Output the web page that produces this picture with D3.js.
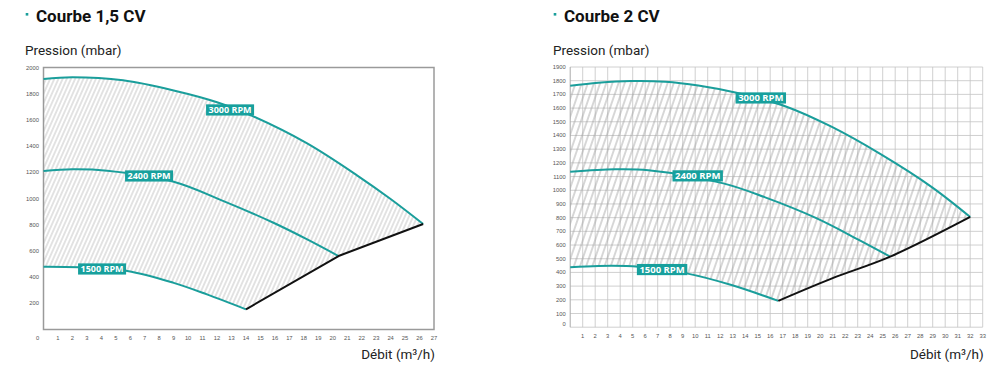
<!DOCTYPE html>
<html>
<head>
<meta charset="utf-8">
<script src="https://cdn.jsdelivr.net/npm/d3@7"></script>
<style>
body { margin: 0; background: #fff; }
svg { display: block; }
</style>
</head>
<body>
<svg id="bg" width="1000" height="371"></svg>
<script>
// --- data (debit m3/h, pression mbar) ---
var rpmLabels = ['3000 RPM', '2400 RPM', '1500 RPM'];

// Courbe 1,5 CV
var cv15_3000 = [[0,1912],[2,1925],[5.5,1902],[9,1825],[12,1735],[14.5,1627],[18.2,1422],[21.7,1175],[24,996],[26.25,805]];
var cv15_2400 = [[0,1210],[2,1223],[4.4,1212],[9,1128],[12.45,980],[15.9,815],[18.2,690],[20.4,561]];
var cv15_1500 = [[0,479],[2.45,475],[5.8,447],[9,356],[11.3,268],[14,154]];
var cv15_limite = [[14,154],[20.4,561],[26.25,805]];
var cv15_labelPos = [[12.9,1676],[7.3,1172],[4.05,462]];
var cv15_xTicks = [0,1,2,3,4,5,6,7,8,9,10,11,12,13,14,15,16,17,18,19,20,21,22,23,24,25,26,27];
var cv15_yTicks = [200,400,600,800,1000,1200,1400,1600,1800,2000];

// Courbe 2 CV
var cv2_3000 = [[0,1763],[2.25,1785],[4.9,1798],[7.6,1793],[10.25,1765],[13.3,1712],[17.25,1612],[20.9,1464],[24.9,1260],[28.9,1025],[32,805]];
var cv2_2400 = [[0,1135],[3.6,1153],[6.25,1146],[12.25,1050],[15.6,948],[19.6,800],[23.05,640],[25.6,515]];
var cv2_1500 = [[0,437],[2.25,447],[5.45,442],[9.3,393],[12.9,308],[16.65,192]];
var cv2_limite = [[16.65,192],[21,358],[25.6,515],[32,805]];
var cv2_labelPos = [[15.25,1674],[10.2,1105],[7.35,421]];
var cv2_xTicks = [1,2,3,4,5,6,7,8,9,10,11,12,13,14,15,16,17,18,19,20,21,22,23,24,25,26,27,28,29,30,31,32,33];
var cv2_yTicks = [0,100,200,300,400,500,600,700,800,900,1000,1100,1200,1300,1400,1500,1600,1700,1800,1900];

var teal = '#1a9e9b';
var tealBox = '#17a09d';

var svg = d3.select('#bg');
var defs = svg.append('defs');

function dibujarCurva(cfg) {
  var g = svg.append('g');
  var x = d3.scaleLinear().domain(cfg.xDom).range(cfg.xRange);
  var y = d3.scaleLinear().domain(cfg.yDom).range(cfg.yRange);

  var curva = d3.line()
    .curve(d3.curveCatmullRom.alpha(0.5))
    .x(function(d) { return x(d[0]); })
    .y(function(d) { return y(d[1]); });
  var recta = d3.line()
    .x(function(d) { return x(d[0]); })
    .y(function(d) { return y(d[1]); });
  var limiteLine = cfg.limiteSuave ? curva : recta;

  // titles
  g.append('rect')
    .attr('x', cfg.left - 1.3).attr('y', 13)
    .attr('width', 2.6).attr('height', 2.6)
    .attr('fill', teal);
  g.append('text')
    .attr('x', cfg.left + 9).attr('y', 21.7)
    .attr('font-family', 'Roboto').attr('font-weight', 700)
    .attr('font-size', 17).attr('fill', '#111')
    .text(cfg.title);
  g.append('text')
    .attr('x', cfg.left - 2).attr('y', 55)
    .attr('font-family', 'Roboto').attr('font-size', 13.5)
    .attr('fill', '#222')
    .text('Pression (mbar)');
  g.append('text')
    .attr('x', cfg.xRange[1] + 1).attr('y', 358.5)
    .attr('text-anchor', 'end')
    .attr('font-family', 'Roboto').attr('font-size', 13.5)
    .attr('fill', '#222')
    .text('Débit (m³/h)');

  var x0 = cfg.xRange[0], x1 = cfg.xRange[1];
  var yb = y(cfg.yDom[0]), yt = y(cfg.yDom[1]);

  // grid
  if (cfg.grid) {
    g.selectAll('.vg').data(cfg.xTicks).join('line')
      .attr('class', 'vg')
      .attr('x1', function(d) { return x(d); }).attr('x2', function(d) { return x(d); })
      .attr('y1', yt).attr('y2', yb)
      .attr('stroke', '#c4c4c4').attr('stroke-width', 0.8);
    g.selectAll('.hg').data(cfg.yTicks).join('line')
      .attr('class', 'hg')
      .attr('x1', x0).attr('x2', x1)
      .attr('y1', function(d) { return y(d); }).attr('y2', function(d) { return y(d); })
      .attr('stroke', '#c4c4c4').attr('stroke-width', 0.8);
    g.append('line')
      .attr('x1', x0).attr('x2', x0).attr('y1', yt).attr('y2', yb)
      .attr('stroke', '#aaa').attr('stroke-width', 1);
  }

  // hatch zone
  var pid = 'hatch' + cfg.id;
  var pat = defs.append('pattern')
    .attr('id', pid)
    .attr('patternUnits', 'userSpaceOnUse')
    .attr('width', cfg.hatchW).attr('height', 20)
    .attr('patternTransform', 'rotate(' + cfg.hatchA + ')');
  pat.append('line')
    .attr('x1', cfg.hatchW / 2).attr('x2', cfg.hatchW / 2)
    .attr('y1', 0).attr('y2', 20)
    .attr('stroke', cfg.hatchColor).attr('stroke-width', 0.8);

  var top = cfg.curves[0], bot = cfg.curves[2];
  var zona = curva(top) +
    limiteLine(cfg.limite.slice().reverse()).replace(/^M/, 'L') +
    curva(bot.slice().reverse()).replace(/^M/, 'L') + 'Z';
  g.append('path')
    .attr('d', zona)
    .attr('fill', 'url(#' + pid + ')')
    .attr('stroke', 'none');

  // frame (1,5 CV)
  if (!cfg.grid) {
    g.append('rect')
      .attr('x', x0).attr('y', yt)
      .attr('width', x1 - x0).attr('height', yb - yt)
      .attr('fill', 'none').attr('stroke', '#9a9a9a').attr('stroke-width', 1.5);
  }

  // ticks
  g.selectAll('.yt').data(cfg.yTicks).join('text')
    .attr('class', 'yt')
    .attr('x', x0 - 4.5)
    .attr('y', function(d) { return y(d) + (d === 0 ? -1 : 2); })
    .attr('text-anchor', 'end')
    .attr('font-family', 'Liberation Sans').attr('font-size', 5.8)
    .attr('fill', '#555')
    .text(function(d) { return d; });
  g.selectAll('.xt').data(cfg.xTicks).join('text')
    .attr('class', 'xt')
    .attr('x', function(d) { return x(d) + (d === 0 ? -6 : 0); })
    .attr('y', cfg.xTickY)
    .attr('text-anchor', 'middle')
    .attr('font-family', 'Liberation Sans').attr('font-size', 5.8)
    .attr('fill', '#555')
    .text(function(d) { return d; });

  // curves
  cfg.curves.forEach(function(c) {
    g.append('path')
      .datum(c)
      .attr('d', curva)
      .attr('fill', 'none')
      .attr('stroke', teal)
      .attr('stroke-width', 2);
  });
  g.append('path')
    .datum(cfg.limite)
    .attr('d', limiteLine)
    .attr('fill', 'none')
    .attr('stroke', '#111')
    .attr('stroke-width', 2)
    .attr('stroke-linejoin', 'round');

  // rpm labels
  cfg.labelPos.forEach(function(p, i) {
    var lg = g.append('g')
      .attr('transform', 'translate(' + x(p[0]) + ',' + y(p[1]) + ')');
    var rect = lg.append('rect').attr('fill', tealBox);
    var t = lg.append('text')
      .attr('text-anchor', 'middle')
      .attr('y', 3.3)
      .attr('font-family', 'Open Sans').attr('font-weight', 700)
      .attr('font-size', cfg.labelSize)
      .attr('fill', '#fff')
      .text(rpmLabels[i]);
    var w = t.node().getComputedTextLength() + 5;
    rect.attr('x', -w / 2).attr('y', -5.6).attr('width', w).attr('height', 11.2);
  });
}

dibujarCurva({
  id: 'a', title: 'Courbe 1,5 CV', left: 27,
  xDom: [0, 27], xRange: [43.5, 434],
  yDom: [0, 2000], yRange: [329.5, 67.5],
  xTicks: cv15_xTicks, yTicks: cv15_yTicks, xTickY: 339.5,
  grid: false, hatchW: 3.8, hatchA: 24, hatchColor: '#b8b8b8',
  curves: [cv15_3000, cv15_2400, cv15_1500], limite: cv15_limite, limiteSuave: false,
  labelPos: cv15_labelPos, labelSize: 9
});

dibujarCurva({
  id: 'b', title: 'Courbe 2 CV', left: 555,
  xDom: [0, 33], xRange: [570.2, 982.7],
  yDom: [0, 1900], yRange: [327.2, 67],
  xTicks: cv2_xTicks, yTicks: cv2_yTicks, xTickY: 338,
  grid: true, hatchW: 5.8, hatchA: 19, hatchColor: '#9a9a9a',
  curves: [cv2_3000, cv2_2400, cv2_1500], limite: cv2_limite, limiteSuave: true,
  labelPos: cv2_labelPos, labelSize: 9.5
});
</script>
</body>
</html>
